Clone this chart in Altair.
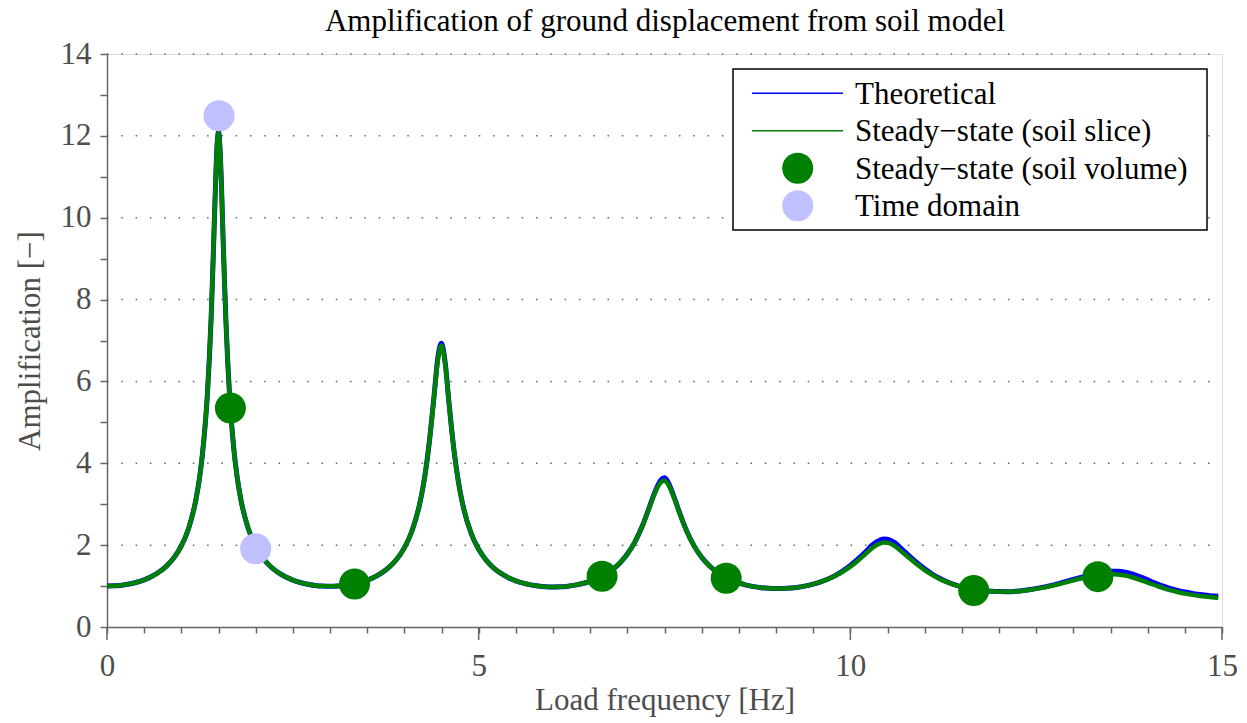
import altair as alt
import pandas as pd

# ---------------- data ----------------
freq = [0.0, 0.1, 0.2, 0.3, 0.4, 0.5, 0.6, 0.7, 0.8, 0.9, 1.0, 1.1, 1.2, 1.25, 1.3, 1.35,
        1.4, 1.42, 1.44, 1.46, 1.48, 1.5, 1.52, 1.54, 1.56, 1.58, 1.6, 1.65, 1.7, 1.75, 1.8,
        1.9, 2.0, 2.1, 2.2, 2.3, 2.4, 2.5, 2.6, 2.7, 2.8, 2.9, 3.0, 3.1, 3.2, 3.3, 3.4, 3.5,
        3.6, 3.7, 3.8, 3.9, 4.0, 4.1, 4.2, 4.25, 4.3, 4.35, 4.4, 4.45, 4.5, 4.55, 4.6, 4.65,
        4.7, 4.75, 4.8, 4.9, 5.0, 5.1, 5.2, 5.3, 5.4, 5.5, 5.6, 5.7, 5.8, 5.9, 6.0, 6.1, 6.2,
        6.3, 6.4, 6.5, 6.6, 6.7, 6.8, 6.9, 7.0, 7.1, 7.2, 7.3, 7.35, 7.4, 7.45, 7.5, 7.55,
        7.6, 7.65, 7.7, 7.8, 7.9, 8.0, 8.1, 8.2, 8.3, 8.4, 8.5, 8.6, 8.7, 8.8, 8.9, 9.0, 9.1,
        9.2, 9.3, 9.4, 9.5, 9.6, 9.7, 9.8, 9.9, 10.0, 10.1, 10.2, 10.3, 10.4, 10.45, 10.5,
        10.55, 10.6, 10.7, 10.8, 10.9, 11.0, 11.1, 11.2, 11.3, 11.4, 11.5, 11.6, 11.7, 11.8,
        11.9, 12.0, 12.1, 12.2, 12.4, 12.6, 12.8, 13.0, 13.1, 13.2, 13.3, 13.4, 13.5, 13.6,
        13.7, 13.8, 13.9, 14.0, 14.1, 14.2, 14.3, 14.4, 14.5, 14.6, 14.7, 14.8, 14.9, 14.95]

theoretical = [1.000, 1.005, 1.022, 1.050, 1.093, 1.153, 1.233, 1.342, 1.488, 1.691, 1.981,
               2.421, 3.146, 3.709, 4.514, 5.673, 7.52, 8.54, 9.67, 10.81, 11.74, 12.10, 11.70,
               10.78, 9.60, 8.47, 7.47, 5.63, 4.46, 3.675, 3.122, 2.405, 1.967, 1.680, 1.479,
               1.334, 1.227, 1.147, 1.088, 1.045, 1.016, 0.999, 0.994, 0.999, 1.015, 1.044,
               1.085, 1.143, 1.222, 1.327, 1.468, 1.661, 1.933, 2.334, 2.955, 3.404, 3.990,
               4.749, 5.645, 6.57, 6.93, 6.45, 5.494, 4.599, 3.875, 3.314, 2.881, 2.284, 1.898,
               1.634, 1.446, 1.309, 1.206, 1.129, 1.071, 1.030, 1.002, 0.985, 0.979, 0.983,
               0.998, 1.024, 1.062, 1.115, 1.186, 1.280, 1.403, 1.566, 1.782, 2.074, 2.460,
               2.949, 3.205, 3.421, 3.590, 3.645, 3.530, 3.315, 3.068, 2.809, 2.341, 1.976,
               1.704, 1.502, 1.349, 1.232, 1.144, 1.076, 1.024, 0.987, 0.961, 0.945, 0.939,
               0.941, 0.952, 0.973, 1.004, 1.047, 1.103, 1.174, 1.262, 1.372, 1.504, 1.658,
               1.824, 2.010, 2.125, 2.150, 2.145, 2.110, 2.055, 1.890, 1.725, 1.565, 1.420,
               1.295, 1.190, 1.105, 1.035, 0.980, 0.940, 0.910, 0.888, 0.874, 0.866, 0.864,
               0.870, 0.910, 0.975, 1.060, 1.160, 1.210, 1.260, 1.300, 1.335, 1.360, 1.365,
               1.340, 1.290, 1.225, 1.150, 1.075, 1.005, 0.945, 0.895, 0.855, 0.820, 0.795,
               0.775, 0.757, 0.750]

soil_slice = [1.000, 1.005, 1.022, 1.050, 1.093, 1.153, 1.233, 1.342, 1.488, 1.691, 1.981,
              2.421, 3.146, 3.709, 4.514, 5.673, 7.52, 8.54, 9.67, 10.81, 11.74, 12.08, 11.70,
              10.78, 9.60, 8.47, 7.47, 5.63, 4.46, 3.675, 3.122, 2.405, 1.967, 1.680, 1.479,
              1.334, 1.227, 1.147, 1.088, 1.045, 1.016, 0.999, 0.994, 0.999, 1.015, 1.044,
              1.085, 1.143, 1.222, 1.327, 1.468, 1.661, 1.933, 2.334, 2.955, 3.404, 3.985,
              4.740, 5.630, 6.52, 6.88, 6.42, 5.480, 4.590, 3.870, 3.314, 2.881, 2.284, 1.898,
              1.634, 1.446, 1.309, 1.206, 1.129, 1.071, 1.030, 1.002, 0.985, 0.979, 0.983,
              0.998, 1.024, 1.062, 1.115, 1.186, 1.280, 1.403, 1.566, 1.782, 2.074, 2.455,
              2.935, 3.180, 3.390, 3.530, 3.575, 3.480, 3.290, 3.050, 2.795, 2.335, 1.972,
              1.704, 1.502, 1.349, 1.232, 1.144, 1.076, 1.024, 0.987, 0.961, 0.945, 0.939,
              0.941, 0.952, 0.973, 1.004, 1.047, 1.103, 1.170, 1.252, 1.355, 1.474, 1.618,
              1.774, 1.940, 2.045, 2.065, 2.060, 2.030, 1.975, 1.825, 1.675, 1.525, 1.390,
              1.275, 1.175, 1.095, 1.030, 0.978, 0.938, 0.908, 0.886, 0.872, 0.864, 0.861,
              0.865, 0.903, 0.963, 1.045, 1.140, 1.185, 1.225, 1.260, 1.285, 1.295, 1.285,
              1.255, 1.210, 1.150, 1.085, 1.020, 0.955, 0.900, 0.855, 0.815, 0.785, 0.760,
              0.740, 0.722, 0.715]

volume_freq = [1.66, 3.33, 6.66, 8.33, 11.66, 13.33]
volume_amp = [5.35, 1.05, 1.24, 1.19, 0.89, 1.23]

time_freq = [1.507, 2.0]
time_amp = [12.49, 1.91]

x_tick_values = [0, 0.5, 1, 1.5, 2, 2.5, 3, 3.5, 4, 4.5, 5, 5.5, 6, 6.5, 7, 7.5, 8, 8.5, 9,
                 9.5, 10, 10.5, 11, 11.5, 12, 12.5, 13, 13.5, 14, 14.5, 15]
x_major_values = [0, 5, 10, 15]
y_tick_values = [0, 1, 2, 3, 4, 5, 6, 7, 8, 9, 10, 11, 12, 13, 14]
y_grid_values = [2, 4, 6, 8, 10, 12, 14]

title_text = "Amplification of ground displacement from soil model"
legend_labels = ["Theoretical", "Steady\u2212state (soil slice)",
                 "Steady\u2212state (soil volume)", "Time domain"]

# ---------------- styling ----------------
FONT = "Liberation Serif"
W, H = 1115, 573
LEFT, TOP = 107, 54
AX = "#666666"
TXT = "#4d4d4d"
BLUE = "#0000ff"
GREEN = "#008000"
LAV = "#c0c0ff"
FS = 31

xscale = alt.Scale(domain=[0, 15], nice=False, zero=False)
yscale = alt.Scale(domain=[0, 14], nice=False, zero=False)

ax_x = alt.Axis(
    title="Load frequency [Hz]", values=x_tick_values,
    labelExpr="datum.value % 5 === 0 ? format(datum.value, 'd') : ''",
    labelOverlap=False, labelFlush=False, grid=False,
    tickSize=6, tickWidth=1.5, tickColor=AX, domainColor=AX, domainWidth=1.5,
    labelFont=FONT, labelFontSize=FS, labelColor=TXT, labelPadding=18,
    titleFont=FONT, titleFontSize=FS, titleColor=TXT, titleFontWeight="normal",
    titleY=73, titleBaseline="middle",
)
ax_y = alt.Axis(
    title="Amplification [\u2212]", values=y_tick_values,
    labelExpr="datum.value % 2 === 0 ? format(datum.value, 'd') : ''",
    labelOverlap=False, labelFlush=False, grid=False,
    tickSize=7, tickWidth=1.5, tickColor=AX, domainColor=AX, domainWidth=1.5,
    labelFont=FONT, labelFontSize=FS, labelColor=TXT, labelPadding=9,
    titleFont=FONT, titleFontSize=FS, titleColor=TXT, titleFontWeight="normal",
    titleX=30 - LEFT, titleY=H / 2, titleBaseline="middle", titleAngle=270,
)

curves = pd.DataFrame({"f": freq, "theo": theoretical, "slice": soil_slice})
vol = pd.DataFrame({"f": volume_freq, "a": volume_amp})
tdom = pd.DataFrame({"f": time_freq, "a": time_amp})
grid_df = pd.DataFrame({"g": y_grid_values})
major_df = pd.DataFrame({"m": x_major_values})

grid = alt.Chart(grid_df).mark_rule(color="#666666", strokeWidth=1.5, strokeDash=[1.5, 12.8]).encode(
    y=alt.Y("g:Q", scale=yscale, axis=ax_y),
    x=alt.value(0), x2=alt.value(W),
)

major_ticks = alt.Chart(major_df).mark_rule(color=AX, strokeWidth=1.5).encode(
    x=alt.X("m:Q", scale=xscale, axis=ax_x),
    y=alt.value(H), y2=alt.value(H + 13),
)

blue_line = alt.Chart(curves).mark_line(color=BLUE, strokeWidth=5, interpolate="monotone").encode(
    x=alt.X("f:Q", scale=xscale, axis=ax_x),
    y=alt.Y("theo:Q", scale=yscale, axis=ax_y),
)
green_line = alt.Chart(curves).mark_line(color=GREEN, strokeWidth=4.5, interpolate="monotone").encode(
    x=alt.X("f:Q", scale=xscale, axis=ax_x),
    y=alt.Y("slice:Q", scale=yscale, axis=ax_y),
)
vol_pts = alt.Chart(vol).mark_circle(color=GREEN, size=961, opacity=1).encode(
    x=alt.X("f:Q", scale=xscale, axis=ax_x),
    y=alt.Y("a:Q", scale=yscale, axis=ax_y),
)
td_pts = alt.Chart(tdom).mark_circle(color=LAV, size=961, opacity=1).encode(
    x=alt.X("f:Q", scale=xscale, axis=ax_x),
    y=alt.Y("a:Q", scale=yscale, axis=ax_y),
)

one = alt.Data(values=[{}])

# chart title as a text mark placed above the plot area
title_mark = alt.Chart(one).mark_text(
    text=title_text, align="center", baseline="alphabetic",
    font=FONT, fontSize=FS, color="black",
).encode(x=alt.value(665 - LEFT), y=alt.value(31 - TOP))

# ---------------- legend (drawn in pixel space) ----------------
lg_box = alt.Chart(one).mark_rect(fill="white", stroke="black", strokeWidth=1.5).encode(
    x=alt.value(733 - LEFT), x2=alt.value(1207 - LEFT),
    y=alt.value(69 - TOP), y2=alt.value(230 - TOP),
)
row_y = [93.3, 130.7, 168.3, 205.7]
lg_layers = [lg_box]
lg_layers.append(alt.Chart(one).mark_rule(color=BLUE, strokeWidth=1.5).encode(
    x=alt.value(752 - LEFT), x2=alt.value(843 - LEFT), y=alt.value(row_y[0] - TOP)))
lg_layers.append(alt.Chart(one).mark_rule(color=GREEN, strokeWidth=1.5).encode(
    x=alt.value(752 - LEFT), x2=alt.value(843 - LEFT), y=alt.value(row_y[1] - TOP)))
lg_layers.append(alt.Chart(one).mark_circle(color=GREEN, size=961, opacity=1).encode(
    x=alt.value(797.7 - LEFT), y=alt.value(row_y[2] - TOP)))
lg_layers.append(alt.Chart(one).mark_circle(color=LAV, size=961, opacity=1).encode(
    x=alt.value(797.7 - LEFT), y=alt.value(row_y[3] - TOP)))
for lab, ry in zip(legend_labels, row_y):
    lg_layers.append(alt.Chart(one).mark_text(
        text=lab, align="left", baseline="alphabetic", font=FONT, fontSize=FS, color="black"
    ).encode(x=alt.value(855 - LEFT), y=alt.value(ry + 10.7 - TOP)))

chart = alt.layer(
    grid, major_ticks, blue_line, green_line, vol_pts, td_pts, title_mark, *lg_layers
).properties(
    width=W, height=H,
    padding={"left": LEFT, "top": TOP, "right": 1247 - LEFT - W, "bottom": 723 - TOP - H},
    autosize=alt.AutoSizeParams(type="none"),
).configure_view(strokeWidth=0).configure(background="white")

chart.save("out.html", embed_options={"renderer": "svg", "actions": False})
